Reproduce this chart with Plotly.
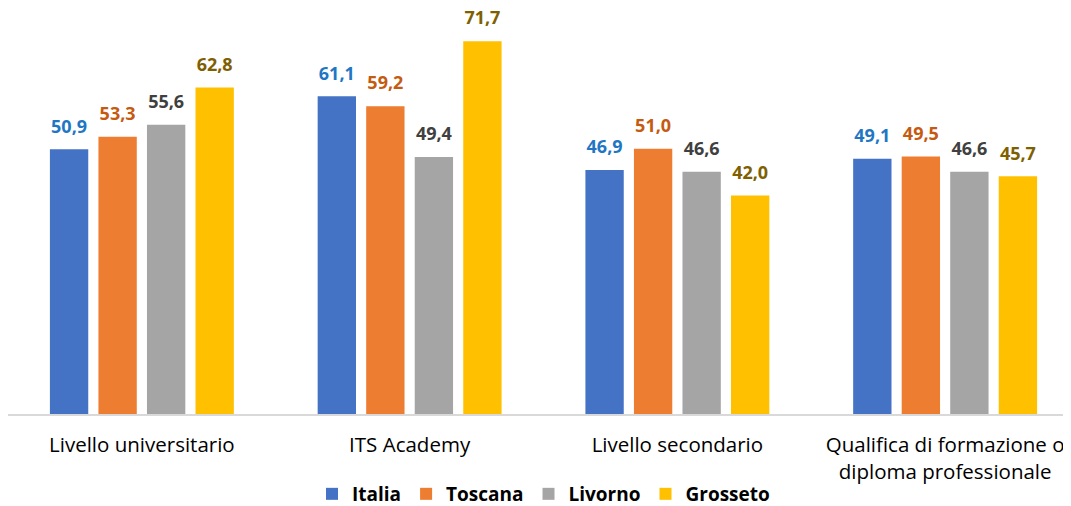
import plotly.graph_objects as go

categories = [
    "Livello universitario",
    "ITS Academy",
    "Livello secondario",
    "Qualifica di formazione o<br>diploma professionale",
]
italia = [50.9, 61.1, 46.9, 49.1]
toscana = [53.3, 59.2, 51.0, 49.5]
livorno = [55.6, 49.4, 46.6, 46.6]
grosseto = [62.8, 71.7, 42.0, 45.7]

series = [
    ("Italia", italia, "#4472C4", "#1F77C4"),
    ("Toscana", toscana, "#ED7D31", "#C55A11"),
    ("Livorno", livorno, "#A5A5A5", "#404040"),
    ("Grosseto", grosseto, "#FFC000", "#7F6000"),
]

FONT = "Open Sans, Noto Sans, sans-serif"

fig = go.Figure()
for name, vals, color, label_color in series:
    fig.add_trace(go.Bar(
        name=name,
        x=categories,
        y=vals,
        offsetgroup=name,
        alignmentgroup="g",
        marker=dict(color=color, line=dict(width=0)),
    ))

# value labels, lifted a little higher above the bars than bar text allows
for name, vals, color, label_color in series:
    fig.add_trace(go.Scatter(
        x=categories,
        y=vals,
        offsetgroup=name,
        alignmentgroup="g",
        mode="markers+text",
        marker=dict(size=18, opacity=0),
        text=[f"{v:.1f}".replace(".", ",") for v in vals],
        textposition="top center",
        textfont=dict(family=FONT, size=18, color=label_color, weight="bold"),
        showlegend=False,
        hoverinfo="skip",
        cliponaxis=False,
    ))

fig.update_layout(
    width=1071,
    height=506,
    margin=dict(l=0, r=0, t=0, b=100),
    barmode="group",
    scattermode="group",
    bargap=0.275,
    bargroupgap=0.21,
    scattergap=0.275,
    plot_bgcolor="white",
    paper_bgcolor="white",
    font=dict(family=FONT, size=18, color="#000000"),
    legend=dict(
        orientation="h",
        x=0.5,
        xanchor="center",
        y=-0.197,
        yanchor="middle",
        font=dict(size=19, weight="bold"),
        itemwidth=30,
        traceorder="normal",
    ),
    xaxis=dict(
        range=[-0.5, 3.5],
        showline=True,
        linecolor="#D9D9D9",
        linewidth=1.5,
        ticks="",
        ticklabelstandoff=12,
        tickfont=dict(size=20.5),
        automargin=False,
    ),
    yaxis=dict(
        range=[0, 78.07],
        visible=False,
        showgrid=False,
    ),
)

fig.write_html("out.html")
